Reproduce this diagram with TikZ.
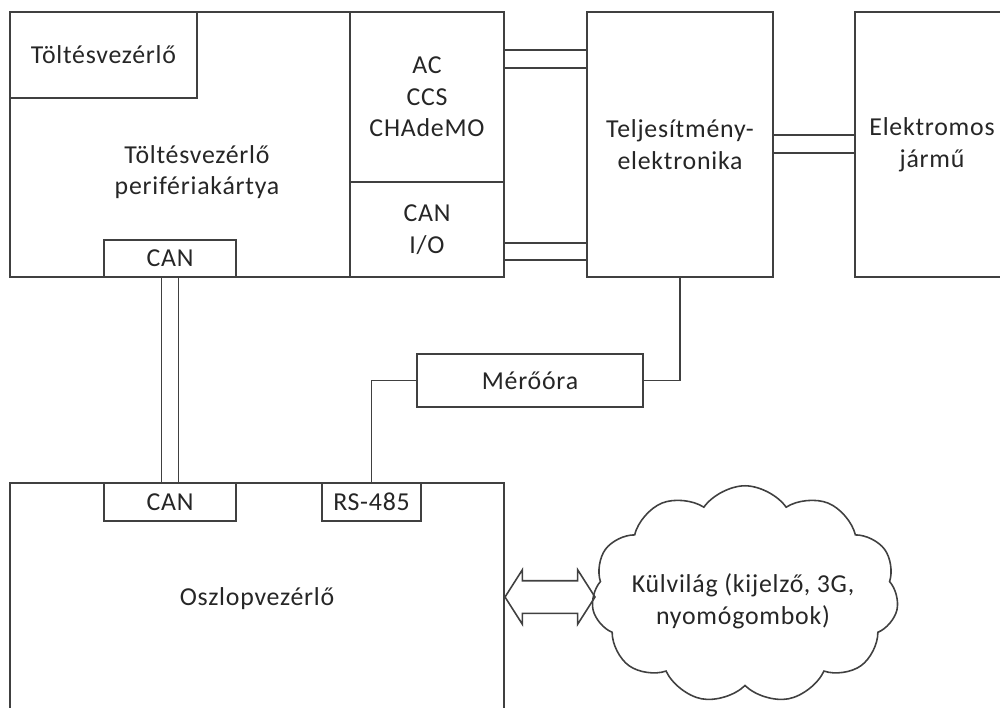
\documentclass[tikz,border=0pt]{standalone}
\usepackage{fontspec}
\setmainfont[LetterSpace=3]{Carlito}
\usetikzlibrary{positioning,calc,shapes.symbols,shapes.arrows}
\definecolor{ink} {HTML}{262626}
\definecolor{wire}{HTML}{404040}

\begin{document}
\begin{tikzpicture}[x=0.02cm,y=0.02cm,
  blk/.style={draw=wire, line width=0.9pt, fill=white, inner sep=0pt,
              align=center, text=ink, font=\fontsize{14.7}{18}\selectfont},
  lbl/.style={inner sep=0pt, align=center, text=ink, font=\fontsize{14.7}{18}\selectfont},
  bus/.style={draw=wire, line width=0.9pt}]
  \useasboundingbox (0,0) rectangle (1000,-707);
  \clip (0,0) rectangle (1000,-707);

  % charging controller board and its parts
  \node[blk, minimum width=9.88cm, minimum height=5.30cm] (perif) at (257,-144.5) {};
  \node[blk, minimum width=3.74cm, minimum height=1.72cm] (tv)    at (103.5,-55) {Töltésvezérlő};
  \node[blk, minimum width=3.08cm, minimum height=3.40cm] (ac)    at (427,-97) {AC\\CCS\\CHAdeMO};
  \node[blk, minimum width=3.08cm, minimum height=1.90cm] (canio) at (427,-229.5) {CAN\\I/O};
  \node[blk, minimum width=2.64cm, minimum height=0.74cm] (canA)  at (170,-258.5) {CAN};
  \node[lbl] (perifl) at (197,-172) {Töltésvezérlő\\perifériakártya};

  % power side
  \node[blk, minimum width=3.72cm, minimum height=5.30cm] (telj) at (680,-144.5) {Teljesítmény-\\elektronika};
  \node[blk, minimum width=3.08cm, minimum height=5.30cm] (ev)   at (932,-144.5) {Elektromos\\jármű};
  \node[blk, minimum width=4.52cm, minimum height=1.06cm] (meter) at (530,-380.5) {Mérőóra};

  % column controller
  \node[blk, minimum width=9.88cm, minimum height=4.64cm] (oszlop) at (257,-599) {Oszlopvezérlő};
  \node[blk, minimum width=2.64cm, minimum height=0.76cm] (canB) at (170,-502) {CAN};
  \node[blk, minimum width=1.98cm, minimum height=0.76cm] (rs)   at (371.5,-502) {RS-485};

  % outside world
  \node[draw=wire, line width=0.9pt, cloud, cloud puffs=11, cloud puff arc=110, aspect=1.5,
        inner sep=0pt, minimum width=6.14cm, minimum height=4.35cm] (world) at (745,-594.5) {};
  \node[lbl] (worldl) at (743,-601) {Külvilág (kijelző, 3G,\\nyomógombok)};
  \node[double arrow, draw=wire, line width=0.9pt, inner xsep=0pt, inner ysep=0.31cm,
        double arrow head extend=0.22cm, double arrow tip angle=115,
        minimum height=1.8cm] (link) at (550,-597) {};

  % links
  \foreach \y in {50,68}
    \draw[bus] (ac.east |- 0,-\y) -- (telj.west |- 0,-\y);
  \foreach \y in {243,260}
    \draw[bus] (canio.east |- 0,-\y) -- (telj.west |- 0,-\y);
  \foreach \y in {135,153}
    \draw[bus] (telj.east |- 0,-\y) -- (ev.west |- 0,-\y);
  \foreach \dx in {-8.5,8.5}
    \draw[bus] ($(canA.south)+(\dx,0)$) -- ($(canB.north)+(\dx,0)$);
  \draw[bus] (telj.south) |- (meter.east);
  \draw[bus] (meter.west) -| (rs.north);
\end{tikzpicture}
\end{document}
